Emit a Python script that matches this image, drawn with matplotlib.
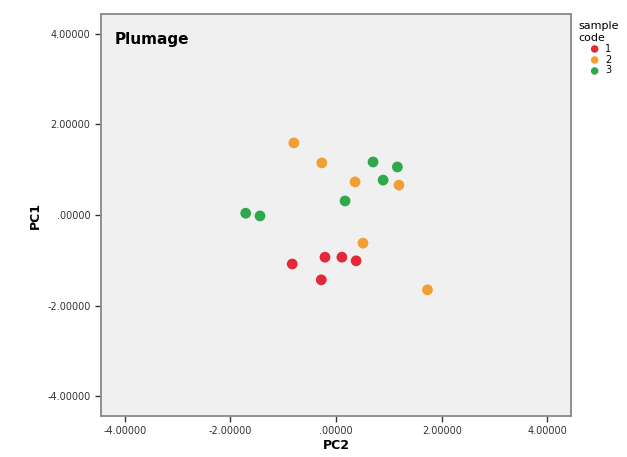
import numpy as np
import matplotlib
matplotlib.use("Agg")
import matplotlib.pyplot as plt
from matplotlib.ticker import FuncFormatter

# PCA scores
pc2_1 = [-0.83, -0.21, 0.11, 0.38, -0.28]
pc1_1 = [-1.08, -0.93, -0.93, -1.01, -1.43]
pc2_2 = [-0.80, -0.27, 0.36, 1.19, 0.51, 1.73]
pc1_2 = [1.59, 1.15, 0.73, 0.66, -0.62, -1.65]
pc2_3 = [0.70, 1.16, 0.89, 0.17, -1.71, -1.44]
pc1_3 = [1.17, 1.06, 0.77, 0.31, 0.04, -0.02]
codes = ["1", "2", "3"]
ticks = [-4, -2, 0, 2, 4]


def spss_fmt(v, pos):
    s = "%.5f" % v
    if s.startswith("0."):
        s = s[1:]
    elif s.startswith("-0."):
        s = s[2:]
    return s


fig = plt.figure(figsize=(6.27, 4.57), dpi=100)
ax = fig.add_axes([0.161, 0.09, 0.75, 0.879])
ax.set_facecolor("#f0f0f0")

colors = ["#e3283a", "#f0a032", "#2ea84a"]
for x, y, c, lab in zip([pc2_1, pc2_2, pc2_3], [pc1_1, pc1_2, pc1_3], colors, codes):
    ax.scatter(x, y, s=60, c=c, label=lab, edgecolors="none", zorder=3)

ax.set_xlim(-4.45, 4.45)
ax.set_ylim(-4.43, 4.43)
ax.set_xticks(ticks)
ax.set_yticks(ticks)
ax.xaxis.set_major_formatter(FuncFormatter(spss_fmt))
ax.yaxis.set_major_formatter(FuncFormatter(spss_fmt))
ax.tick_params(labelsize=7, colors="#333333", length=4, width=1)
for sp in ax.spines.values():
    sp.set_color("#888888")
    sp.set_linewidth(1.3)

ax.set_xlabel("PC2", fontsize=9, fontweight="bold", labelpad=2)
ax.set_ylabel("PC1", fontsize=9, fontweight="bold", labelpad=4)
ax.text(0.03, 0.955, "Plumage", transform=ax.transAxes, fontsize=11,
        fontweight="bold", va="top", ha="left")

leg = ax.legend(title="sample\ncode", loc="upper left", bbox_to_anchor=(1.0, 1.0),
                frameon=False, fontsize=7, title_fontsize=8, handletextpad=0.1,
                labelspacing=0.1, borderaxespad=0.3, markerscale=0.7)
leg._legend_box.align = "center"

fig.savefig("out.png", dpi=100)
